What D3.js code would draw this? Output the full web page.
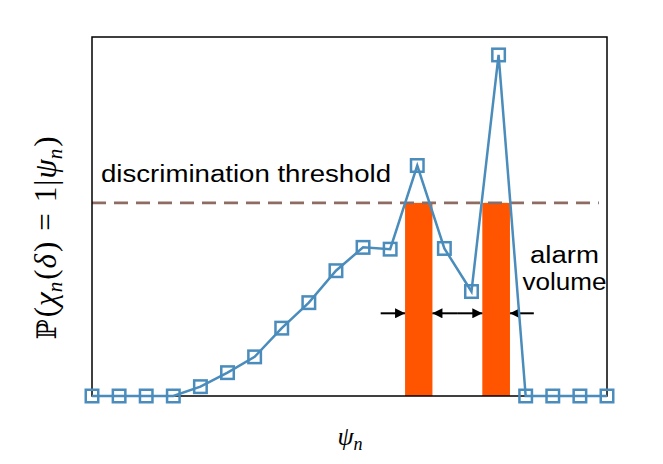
<!DOCTYPE html>
<html>
<head>
<meta charset="utf-8">
<script src="https://cdn.jsdelivr.net/npm/d3@7"></script>
<style>
  html, body { margin: 0; padding: 0; background: #fff; }
  svg { display: block; }
</style>
</head>
<body>
<svg id="chart" width="663" height="464"></svg>
<script>
// ---- data ----
const steps = d3.range(20); // index of psi_n samples
const probValues = [0, 0, 0, 0, 0.026, 0.065, 0.109, 0.189, 0.26, 0.349,
                    0.414, 0.409, 0.642, 0.411, 0.291, 0.95, 0, 0, 0, 0];
const threshold = 0.538;
const alarmStart = [11.55, 14.4];
const alarmEnd = [12.56, 15.42];
const arrowTails = [10.65, 13.47, 13.47, 16.3];
const arrowTips = [11.55, 12.56, 14.4, 15.42];
const thresholdLabel = "discrimination threshold";
const alarmLabel = ["alarm", "volume"];

// ---- layout ----
const svg = d3.select("#chart");
const pLeft = 92, pRight = 607, pTop = 37, pBottom = 396;
const x = d3.scaleLinear().domain([0, 19]).range([pLeft, pRight]);
const y = d3.scaleLinear().domain([0, 1]).range([pBottom, pTop]);

const blue = "#4a8cbb";
const orange = "#ff5500";
const brown = "#8f6c63";

// alarm bars
svg.append("g").selectAll("rect")
  .data(alarmStart.map((s, i) => ({ s, e: alarmEnd[i] })))
  .join("rect")
  .attr("x", d => x(d.s))
  .attr("width", d => x(d.e) - x(d.s))
  .attr("y", y(threshold))
  .attr("height", y(0) - y(threshold))
  .attr("fill", orange);

// threshold line
svg.append("line")
  .attr("x1", x(0)).attr("x2", x(18.7))
  .attr("y1", y(threshold)).attr("y2", y(threshold))
  .attr("stroke", brown).attr("stroke-width", 2.6)
  .attr("stroke-dasharray", "14,8");

// frame
svg.append("rect")
  .attr("x", pLeft).attr("y", pTop)
  .attr("width", pRight - pLeft).attr("height", pBottom - pTop)
  .attr("fill", "none").attr("stroke", "#000").attr("stroke-width", 1.5);

// arrows
const defs = svg.append("defs");
defs.append("marker")
  .attr("id", "ah").attr("viewBox", "0 0 10 10")
  .attr("refX", 10).attr("refY", 5)
  .attr("markerWidth", 6).attr("markerHeight", 5)
  .attr("markerUnits", "strokeWidth")
  .attr("orient", "auto")
  .append("path").attr("d", "M0,0 L10,5 L0,10 z").attr("fill", "#000");

const arrowY = 313.3;
svg.append("g").selectAll("line")
  .data(arrowTails.map((t, i) => ({ t, h: arrowTips[i] })))
  .join("line")
  .attr("x1", d => x(d.t)).attr("x2", d => x(d.h))
  .attr("y1", arrowY).attr("y2", arrowY)
  .attr("stroke", "#000").attr("stroke-width", 2)
  .attr("marker-end", "url(#ah)");

// data line
const line = d3.line().x((d, i) => x(steps[i])).y(d => y(d));
svg.append("path")
  .datum(probValues)
  .attr("d", line)
  .attr("fill", "none")
  .attr("stroke", blue)
  .attr("stroke-width", 2.5);

// markers
const ms = 12.5;
svg.append("g").selectAll("rect")
  .data(probValues)
  .join("rect")
  .attr("x", (d, i) => x(steps[i]) - ms / 2)
  .attr("y", d => y(d) - ms / 2)
  .attr("width", ms).attr("height", ms)
  .attr("fill", "none")
  .attr("stroke", blue)
  .attr("stroke-width", 2.5);

// annotations
const sans = "Liberation Sans, Arial, sans-serif";
svg.append("text")
  .attr("x", 101).attr("y", 182)
  .attr("font-family", sans)
  .attr("font-size", 23.5)
  .attr("textLength", 290)
  .attr("lengthAdjust", "spacingAndGlyphs")
  .attr("fill", "#000")
  .text(thresholdLabel);

const alarmLens = [69, 84];
svg.append("g").selectAll("text")
  .data(alarmLabel)
  .join("text")
  .attr("x", (d, i) => 564.5 - alarmLens[i] / 2)
  .attr("y", (d, i) => 263 + i * 27)
  .attr("font-family", sans)
  .attr("font-size", 23.5)
  .attr("textLength", (d, i) => alarmLens[i])
  .attr("lengthAdjust", "spacingAndGlyphs")
  .attr("fill", "#000")
  .text(d => d);

// axis labels
const serif = "Liberation Serif, 'DejaVu Serif', serif";
const xl = svg.append("text")
  .attr("x", 350).attr("y", 445)
  .attr("text-anchor", "middle")
  .attr("font-family", serif).attr("font-size", 26);
xl.append("tspan").attr("font-style", "italic").text("ψ");
xl.append("tspan").attr("font-style", "italic").attr("font-size", 18).attr("dy", 5).text("n");

const yl = svg.append("text")
  .attr("transform", "translate(56,238) rotate(-90)")
  .attr("text-anchor", "middle")
  .attr("font-family", serif).attr("font-size", 31);
yl.append("tspan").attr("font-family", "'DejaVu Serif', serif").attr("font-size", 27).text("ℙ");
yl.append("tspan").attr("dx", 2).text("(");
yl.append("tspan").attr("font-style", "italic").attr("dx", 1).text("χ");
yl.append("tspan").attr("font-style", "italic").attr("font-size", 21).attr("dy", 6).text("n");
yl.append("tspan").attr("dy", -6).attr("dx", 2).text("(");
yl.append("tspan").attr("font-style", "italic").attr("dx", 1).text("δ");
yl.append("tspan").attr("dx", 2).text(")");
yl.append("tspan").attr("dx", 11).text("=");
yl.append("tspan").attr("dx", 11).text("1");
yl.append("tspan").attr("dx", 1).text("|");
yl.append("tspan").attr("font-style", "italic").attr("dx", 1).text("ψ");
yl.append("tspan").attr("font-style", "italic").attr("font-size", 21).attr("dy", 6).text("n");
yl.append("tspan").attr("dy", -6).attr("dx", 2).text(")");
</script>
</body>
</html>
